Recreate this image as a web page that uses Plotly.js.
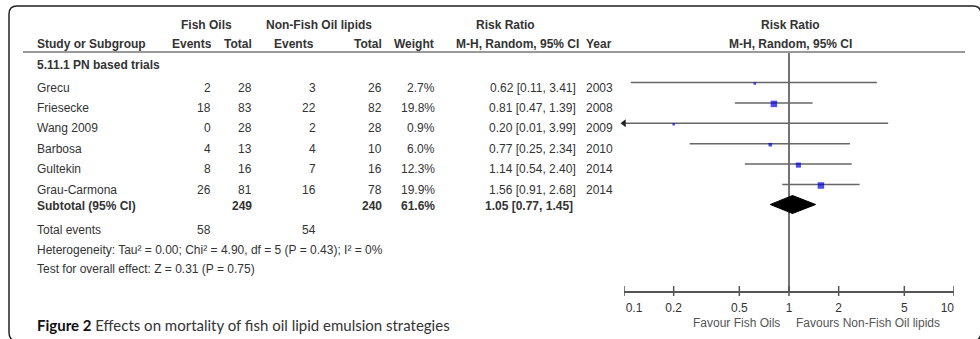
<!DOCTYPE html>
<html>
<head>
<meta charset="utf-8">
<script src="https://cdn.plot.ly/plotly-3.0.1.min.js"></script>
<style>
  html, body { margin: 0; padding: 0; background: #fff; }
  #chart { width: 980px; height: 339px; }
</style>
</head>
<body>
<div id="chart"></div>
<script>
// ---- Study data (5.11.1 PN based trials) ----
const studies     = ['Grecu', 'Friesecke', 'Wang 2009', 'Barbosa', 'Gultekin', 'Grau-Carmona'];
const fishEvents  = [2, 18, 0, 4, 8, 26];
const fishTotal   = [28, 83, 28, 13, 16, 81];
const ctrlEvents  = [3, 22, 2, 4, 7, 16];
const ctrlTotal   = [26, 82, 28, 10, 16, 78];
const weights     = [2.7, 19.8, 0.9, 6.0, 12.3, 19.9];
const riskRatio   = [0.62, 0.81, 0.20, 0.77, 1.14, 1.56];
const ciLow       = [0.11, 0.47, 0.01, 0.25, 0.54, 0.91];
const ciHigh      = [3.41, 1.39, 3.99, 2.34, 2.40, 2.68];
const years       = [2003, 2008, 2009, 2010, 2014, 2014];

// ---- Pooled / summary values ----
const subtotalTotals = [249, 240];
const subtotalWeight = 61.6;
const pooledRR       = [1.05, 0.77, 1.45];   // estimate, lower, upper
const totalEvents    = [58, 54];

// ---- Axis ticks ----
const tickVals   = [0.1, 0.2, 0.5, 1, 2, 5, 10];
const tickLabels = ['0.1', '0.2', '0.5', '1', '2', '5', '10'];

// ---- Layout geometry (pixels) ----
const W = 980, H = 339;
const plotLeft = 624, plotRight = 954, axisY = 291;
const lineY = i => 82.5 + 20.4 * i;
const textY = i => lineY(i) + 5;
const subtotalY = 206;
const diamondY = 204.5;

const FONT = 'Liberation Sans, Arial, sans-serif';
const FS = 12;
const TXT = '#333';

const fmt2 = v => v.toFixed(2);
const ciText = (r, l, h) => fmt2(r) + ' [' + fmt2(l) + ', ' + fmt2(h) + ']';

const annotations = [];
function label(x, y, text, anchor, bold, opts) {
  annotations.push(Object.assign({
    x: x, y: y, xref: 'x', yref: 'y', showarrow: false,
    xanchor: anchor, yanchor: 'middle',
    text: bold ? '<b>' + text + '</b>' : text,
    font: { family: FONT, size: FS, color: TXT }
  }, opts || {}));
}

// Header rows
const h1 = 25, h2 = 44;
label(206, h1, 'Fish Oils', 'center', true);
label(319, h1, 'Non-Fish Oil lipids', 'center', true);
label(505, h1, 'Risk Ratio', 'center', true);
label(790, h1, 'Risk Ratio', 'center', true);
label(35, h2, 'Study or Subgroup', 'left', true);
label(214, h2, 'Events', 'right', true);
label(254, h2, 'Total', 'right', true);
label(294, h2, 'Events', 'center', true);
label(384, h2, 'Total', 'right', true);
label(436, h2, 'Weight', 'right', true);
label(581, h2, 'M-H, Random, 95% CI', 'right', true);
label(584, h2, 'Year', 'left', true);
label(790, h2, 'M-H, Random, 95% CI', 'center', true);

label(35, 65, '5.11.1 PN based trials', 'left', true);

// Study rows
studies.forEach((s, i) => {
  const y = textY(i);
  label(35, y, s, 'left');
  label(213, y, String(fishEvents[i]), 'right');
  label(254, y, String(fishTotal[i]), 'right');
  label(318, y, String(ctrlEvents[i]), 'right');
  label(384, y, String(ctrlTotal[i]), 'right');
  label(437, y, weights[i].toFixed(1) + '%', 'right');
  label(578, y, ciText(riskRatio[i], ciLow[i], ciHigh[i]), 'right');
  label(615, y, String(years[i]), 'right');
});

// Subtotal row
label(35, subtotalY, 'Subtotal (95% CI)', 'left', true);
label(254, subtotalY, String(subtotalTotals[0]), 'right', true);
label(384, subtotalY, String(subtotalTotals[1]), 'right', true);
label(437, subtotalY, subtotalWeight.toFixed(1) + '%', 'right', true);
label(575, subtotalY, ciText(pooledRR[0], pooledRR[1], pooledRR[2]), 'right', true);

// Totals and tests
label(35, 230, 'Total events', 'left');
label(213, 230, String(totalEvents[0]), 'right');
label(318, 230, String(totalEvents[1]), 'right');
label(35, 250, 'Heterogeneity: Tau² = 0.00; Chi² = 4.90, df = 5 (P = 0.43); I² = 0%', 'left');
label(35, 269, 'Test for overall effect: Z = 0.31 (P = 0.75)', 'left');

// Direction labels under the axis
label(782, 323, 'Favour Fish Oils', 'right', false, { font: { family: FONT, size: FS, color: '#555' } });
label(794, 323, 'Favours Non-Fish Oil lipids', 'left', false, { font: { family: FONT, size: FS, color: '#555' } });

// Figure caption
annotations.push({
  x: 35, y: 325, xref: 'x', yref: 'y', showarrow: false, xanchor: 'left', yanchor: 'middle',
  text: '<b><span style="color:#111">Figure 2</span></b> Effects on mortality of fish oil lipid emulsion strategies',
  font: { family: 'Lato, Open Sans, sans-serif', size: 15, color: '#333' }
});

// ---- Forest plot traces (log scale on x2) ----
const traces = [];

// line of no effect
traces.push({
  x: [1, 1], y: [52, axisY], xaxis: 'x2', yaxis: 'y', mode: 'lines',
  line: { color: '#444', width: 1.5 }, hoverinfo: 'skip', showlegend: false
});

// confidence intervals
const cx = [], cy = [];
studies.forEach((s, i) => {
  cx.push(Math.max(ciLow[i], 0.1), ciHigh[i], null);
  cy.push(lineY(i), lineY(i), null);
});
traces.push({
  x: cx, y: cy, xaxis: 'x2', yaxis: 'y', mode: 'lines',
  line: { color: '#666', width: 1.5 }, hoverinfo: 'skip', showlegend: false
});

// truncated interval arrow
const arrowX = [], arrowY = [];
studies.forEach((s, i) => {
  if (ciLow[i] < 0.1) { arrowX.push(0.1); arrowY.push(lineY(i)); }
});
traces.push({
  x: arrowX, y: arrowY, xaxis: 'x2', yaxis: 'y', mode: 'markers', cliponaxis: false,
  marker: { symbol: 'triangle-left', size: 7, color: '#222' }, hoverinfo: 'skip', showlegend: false
});

// pooled diamond
traces.push({
  x: [pooledRR[1], pooledRR[0], pooledRR[2], pooledRR[0], pooledRR[1]],
  y: [diamondY, diamondY - 9, diamondY, diamondY + 9, diamondY],
  xaxis: 'x2', yaxis: 'y', mode: 'lines', fill: 'toself', fillcolor: '#000',
  line: { color: '#000', width: 1 }, hoverinfo: 'skip', showlegend: false
});

// study estimates, square size by weight
traces.push({
  x: riskRatio, y: studies.map((s, i) => lineY(i) + 1), xaxis: 'x2', yaxis: 'y', mode: 'markers',
  marker: {
    symbol: 'square', color: '#0000e0',
    size: weights.map(w => Math.max(2.5, 6.5 * Math.sqrt(w / 19.9))),
    line: { width: 0 }
  },
  hoverinfo: 'skip', showlegend: false
});

// tick marks crossing the axis
const tx = [], ty = [];
tickVals.forEach(v => { tx.push(v, v, null); ty.push(axisY - 5, axisY + 5, null); });
traces.push({
  x: tx, y: ty, xaxis: 'x2', yaxis: 'y', mode: 'lines', cliponaxis: false,
  line: { color: '#555', width: 1.5 }, hoverinfo: 'skip', showlegend: false
});

// Tick labels: outer ones pulled inward
const nb = n => '\u00a0'.repeat(n);
const tickText = tickLabels.map((t, i) =>
  i === 0 ? nb(6) + t : (i === tickLabels.length - 1 ? t + nb(4) : t));

const layout = {
  width: W, height: H,
  margin: { l: 0, r: 0, t: 0, b: 0 },
  paper_bgcolor: '#fff', plot_bgcolor: 'rgba(0,0,0,0)',
  showlegend: false,
  xaxis: { range: [0, W], domain: [0, 1], visible: false, fixedrange: true },
  yaxis: { range: [H, 0], domain: [0, 1], visible: false, fixedrange: true },
  xaxis2: {
    type: 'log', range: [-1, 1],
    domain: [plotLeft / W, plotRight / W],
    anchor: 'free', position: (H - axisY) / H,
    showline: true, linecolor: '#555', linewidth: 1.5,
    ticks: '', tickvals: tickVals, ticktext: tickText,
    ticklabelstandoff: 5,
    tickfont: { family: FONT, size: FS, color: '#333' },
    showgrid: false, zeroline: false, fixedrange: true
  },
  shapes: [
    // outer rounded frame
    {
      type: 'path', xref: 'x', yref: 'y',
      path: 'M 9,332 L 9,14 Q 9,6 17,6 L 973,6 Q 981,6 981,14 L 981,332 Q 981,341 973,341 L 17,341 Q 9,341 9,332 Z',
      line: { color: '#222', width: 1.5 }, fillcolor: 'rgba(0,0,0,0)'
    },
    // header rule
    {
      type: 'line', xref: 'x', yref: 'y', x0: 23, x1: 965, y0: 52, y1: 52,
      line: { color: '#999', width: 2 }
    }
  ],
  annotations: annotations
};

Plotly.newPlot('chart', traces, layout, { staticPlot: true, displayModeBar: false });
</script>
</body>
</html>
